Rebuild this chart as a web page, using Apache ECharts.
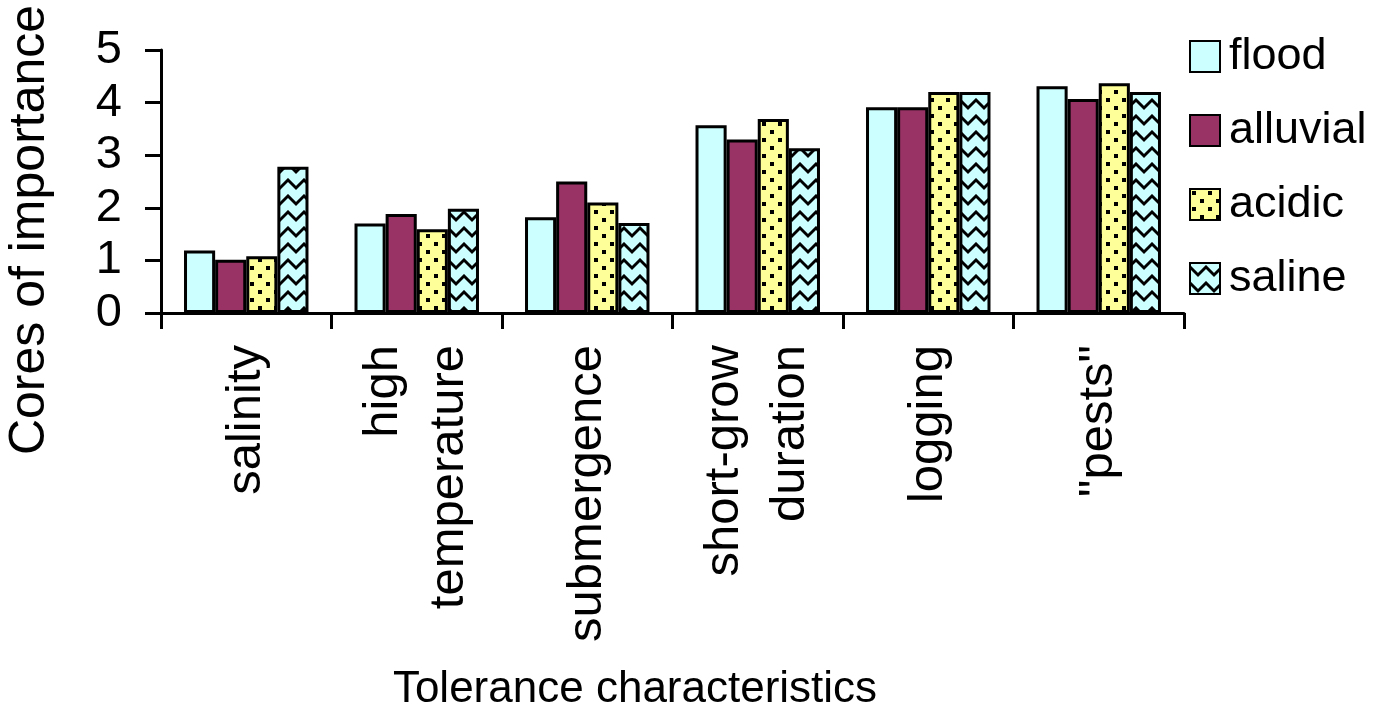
<!DOCTYPE html>
<html>
<head>
<meta charset="UTF-8">
<title>Tolerance characteristics</title>
<script src="https://cdn.jsdelivr.net/npm/echarts@6/dist/echarts.min.js"></script>
<style>
  html, body { margin: 0; padding: 0; background: #fff; }
  #main { width: 1374px; height: 721px; }
</style>
</head>
<body>
<div id="main"></div>
<script>
var categories = ['salinity', 'high\ntemperature', 'submergence', 'short-grow\nduration', 'logging', '"pests"'];
var flood    = [1.19, 1.70, 1.82, 3.57, 3.91, 4.31];
var alluvial = [1.01, 1.88, 2.50, 3.30, 3.91, 4.07];
var acidic   = [1.08, 1.59, 2.10, 3.69, 4.20, 4.37];
var saline   = [2.78, 1.98, 1.71, 3.13, 4.20, 4.20];
var yTicks   = [0, 1, 2, 3, 4, 5];

var FONT = "'Liberation Sans', Arial, sans-serif";

// dotted fill (acidic)
function dotPattern() {
  var c = document.createElement('canvas');
  c.width = 16; c.height = 16;
  var g = c.getContext('2d');
  g.fillStyle = '#FFFF99';
  g.fillRect(0, 0, 16, 16);
  g.fillStyle = '#000';
  g.fillRect(2, 2, 4, 4);
  g.fillRect(10, 10, 4, 4);
  return c;
}
// zigzag fill (saline)
function zigPattern() {
  var c = document.createElement('canvas');
  c.width = 16; c.height = 16;
  var g = c.getContext('2d');
  g.fillStyle = '#CCFFFF';
  g.fillRect(0, 0, 16, 16);
  g.strokeStyle = '#000';
  g.lineWidth = 3;
  g.beginPath();
  g.moveTo(-1, 3); g.lineTo(8, 12); g.lineTo(17, 3);
  g.stroke();
  return c;
}

var chart = echarts.init(document.getElementById('main'));
var border = { borderColor: '#000', borderWidth: 3 };

chart.setOption({
  animation: false,
  textStyle: { fontFamily: FONT, color: '#000' },
  grid: { left: 161, right: 190, top: 50, bottom: 408 },
  legend: {
    orient: 'vertical',
    left: 1184,
    top: 29,
    itemWidth: 30,
    itemHeight: 31,
    itemGap: 29,
    icon: 'rect',
    textStyle: { fontSize: 45, fontFamily: FONT, color: '#000', lineHeight: 44, padding: [0, 0, 0, 4] },
    data: ['flood', 'alluvial', 'acidic', 'saline']
  },
  xAxis: {
    type: 'category',
    data: categories,
    axisLine: { lineStyle: { color: '#000', width: 3 } },
    axisTick: { show: true, length: 16, lineStyle: { color: '#000', width: 3 } },
    axisLabel: {
      rotate: 90,
      margin: 32,
      fontSize: 49,
      lineHeight: 66,
      fontFamily: FONT,
      color: '#000',
      interval: 0
    }
  },
  yAxis: {
    type: 'value',
    min: yTicks[0],
    max: yTicks[yTicks.length - 1],
    interval: 1,
    splitLine: { show: false },
    axisLine: { show: true, lineStyle: { color: '#000', width: 3 } },
    axisTick: { show: true, length: 16, lineStyle: { color: '#000', width: 3 } },
    axisLabel: { margin: 39, fontSize: 47, fontFamily: FONT, color: '#000' }
  },
  graphic: [
    {
      type: 'text',
      x: 30, y: 230,
      rotation: Math.PI / 2,
      style: { text: 'Cores of importance', font: '50px ' + FONT, fill: '#000', textAlign: 'center', textVerticalAlign: 'middle' }
    },
    {
      type: 'text',
      x: 635, y: 690,
      style: { text: 'Tolerance characteristics', font: '44px ' + FONT, fill: '#000', textAlign: 'center', textVerticalAlign: 'middle' }
    }
  ],
  series: [
    { name: 'flood', type: 'bar', data: flood, barGap: '0%', barCategoryGap: '27%',
      itemStyle: Object.assign({ color: '#CCFFFF' }, border) },
    { name: 'alluvial', type: 'bar', data: alluvial,
      itemStyle: Object.assign({ color: '#993366' }, border) },
    { name: 'acidic', type: 'bar', data: acidic,
      itemStyle: Object.assign({ color: { image: dotPattern(), repeat: 'repeat' } }, border) },
    { name: 'saline', type: 'bar', data: saline,
      itemStyle: Object.assign({ color: { image: zigPattern(), repeat: 'repeat' } }, border) }
  ]
});
</script>
</body>
</html>
